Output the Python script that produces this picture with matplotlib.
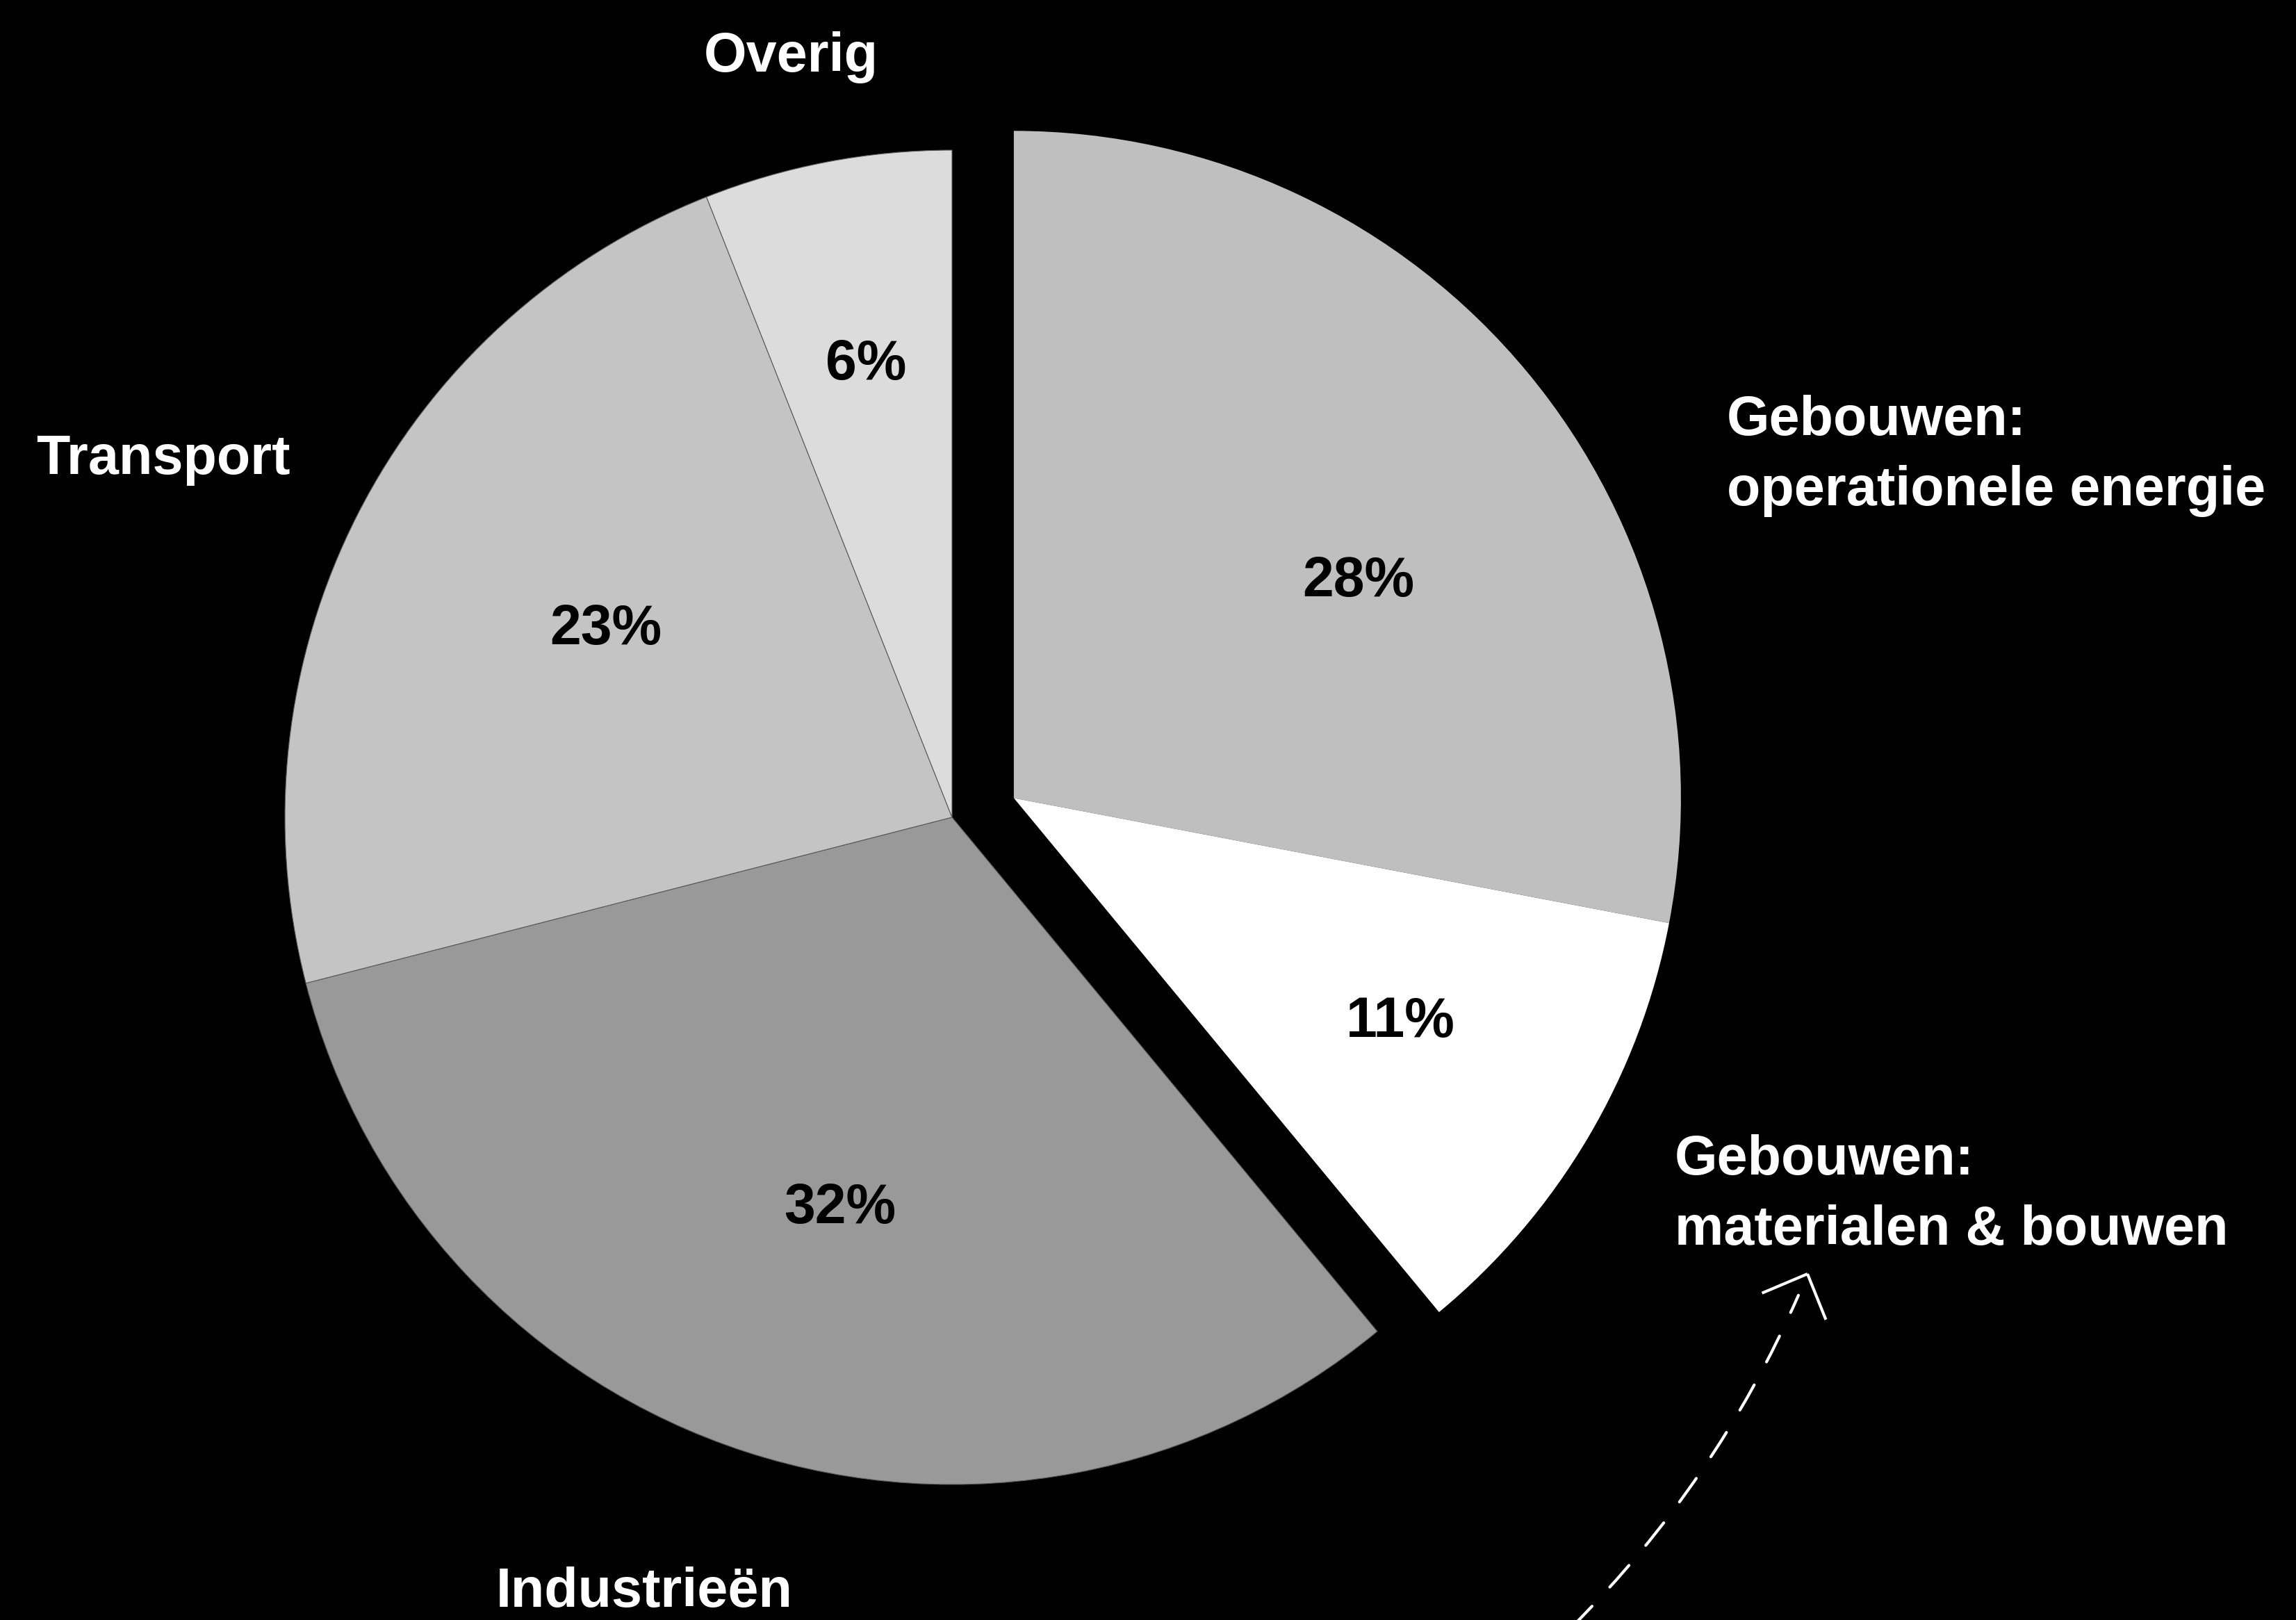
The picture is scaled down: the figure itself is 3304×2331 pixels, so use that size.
import numpy as np
import matplotlib.pyplot as plt
from matplotlib.patches import FancyArrowPatch

plt.rcParams['font.family'] = ['Liberation Sans', 'DejaVu Sans']

# CO2 share per sector (%), clockwise from 12 o'clock
sectors = ['Gebouwen:\noperationele energie', 'Gebouwen:\nmaterialen & bouwen',
           'Industrieën', 'Transport', 'Overig']
shares = [28, 11, 32, 23, 6]
colors = ['#bfbfbf', '#ffffff', '#999999', '#c4c4c4', '#dcdcdc']

# label placement (pixel space, y up; multi-line names anchor on last line)
pct_r = [0.61, 0.67, 0.61, 0.59, 0.69]
pct_nudge = [-7.5, 0.5, 2, -1.5, 0]
name_xy = [(2485, 1604), (2410, 540), (927, 19), (52, 1649), (1138, 2228)]
name_ha = ['left', 'left', 'center', 'left', 'center']

W, H = 3305, 2331
fig = plt.figure(figsize=(W / 200, H / 200), dpi=200, facecolor='black')
ax = fig.add_axes([0, 0, 1, 1])
ax.set_facecolor('black')

R = 960
cx, cy = 1370, 1155
wedges, _ = ax.pie(shares, colors=colors, startangle=90, counterclock=False,
                   radius=R, center=(cx, cy),
                   wedgeprops=dict(edgecolor='#5a5a5a', linewidth=0.4))

# pull the two building slices out together
gmid = np.deg2rad((wedges[0].theta2 + wedges[1].theta1) / 2 - 2.5)
off = 0.097 * R
for w in wedges[:2]:
    w.set_center((cx + off * np.cos(gmid), cy + off * np.sin(gmid)))
    w.set_edgecolor('none')

for i, w in enumerate(wedges):
    a = np.deg2rad((w.theta1 + w.theta2) / 2 + pct_nudge[i])
    x0, y0 = w.center
    ax.text(x0 + pct_r[i] * R * np.cos(a), y0 + pct_r[i] * R * np.sin(a),
            f'{shares[i]}%', ha='center', va='center', fontsize=29,
            fontweight='bold', color='black')

for name, (x, y), ha in zip(sectors, name_xy, name_ha):
    ax.text(x, y, name, ha=ha, va='baseline', fontsize=28.5,
            fontweight='bold', color='white', linespacing=1.45)

# dashed pointer towards the materials label
tail, tip = (2262, -10), (2601, 498)
ax.add_patch(FancyArrowPatch(tail, tip, arrowstyle='-',
                             connectionstyle='arc3,rad=0.1', color='white',
                             lw=1.5, linestyle=(0, (10, 9)),
                             shrinkA=0, shrinkB=12))
ang = np.deg2rad(67.4 + 180)
for s in (-44.5, 44.5):
    b = ang + np.deg2rad(s)
    ax.plot([tip[0], tip[0] + 71 * np.cos(b)], [tip[1], tip[1] + 71 * np.sin(b)],
            color='white', lw=1.5, solid_capstyle='butt')

ax.set_xlim(0, W)
ax.set_ylim(0, H)
ax.set_aspect('equal')
ax.axis('off')

fig.savefig('out.png', dpi=200, facecolor='black')
